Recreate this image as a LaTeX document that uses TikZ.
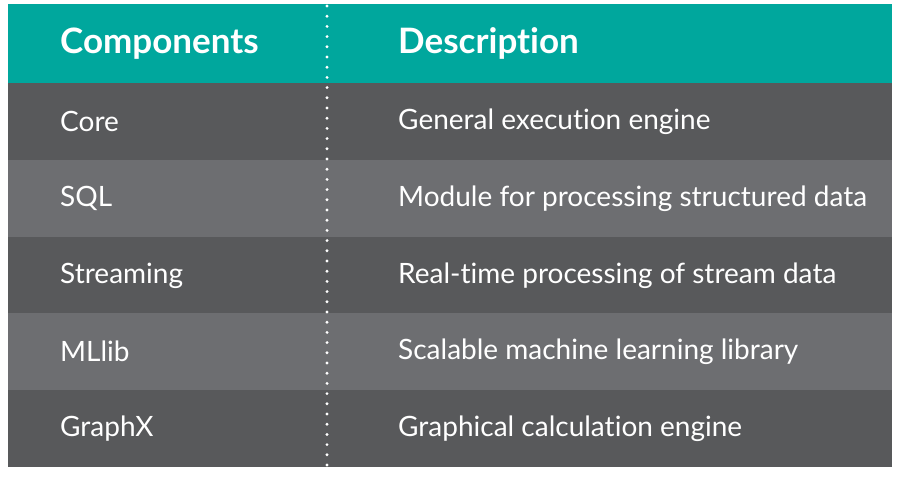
\documentclass[tikz,border=0pt]{standalone}
\usepackage{fontspec}
\setmainfont{Lato}[Ligatures=NoCommon]
\usepackage{xcolor}
\usetikzlibrary{positioning}

\definecolor{headteal}{HTML}{00A79D}
\definecolor{rowdark}{HTML}{58595B}
\definecolor{rowlight}{HTML}{6D6E71}

\begin{document}
\begin{tikzpicture}[
    x=1bp, y=-1bp,
    band/.style={rectangle, anchor=north west, inner sep=0pt, outer sep=0pt, minimum width=884bp, minimum height=77bp},
    cell/.style={inner sep=0pt, text=white, font=\fontsize{28bp}{33bp}\selectfont},
    headcell/.style={inner sep=0pt, text=white, font=\fontsize{35bp}{42bp}\selectfont\bfseries},
    sepline/.style={draw=white, line width=3.2bp, line cap=round, dash pattern=on 0pt off 10.2bp},
]
\useasboundingbox[fill=white] (0,0) rectangle (900,477);

% Header and row bands
\node[band, fill=headteal, minimum height=79bp] (headrow) at (8,4) {};
\node[band, fill=rowdark] (corerow) at (8,83) {};
\node[band, fill=rowlight] (sqlrow) at (8,160) {};
\node[band, fill=rowdark] (streamrow) at (8,237) {};
\node[band, fill=rowlight] (mlrow) at (8,313) {};
\node[band, fill=rowdark, minimum height=77bp] (graphrow) at (8,390) {};

% Header texts
\node[headcell, anchor=west, right=52bp of headrow.west] (comphead) {Components};
\node[headcell, anchor=west, right=390bp of headrow.west] (deschead) {Description};

% Component names
\node[cell, right=52bp of corerow.west] (core) {Core};
\node[cell, right=52bp of sqlrow.west] (sql) {SQL};
\node[cell, right=52bp of streamrow.west] (streaming) {Streaming};
\node[cell, right=52bp of mlrow.west] (mllib) {MLlib};
\node[cell, right=52bp of graphrow.west] (graphx) {GraphX};

% Descriptions
\node[cell, right=390bp of corerow.west] (coredesc) {General execution engine};
\node[cell, right=390bp of sqlrow.west] (sqldesc) {Module for processing structured data};
\node[cell, right=390bp of streamrow.west] (streamdesc) {Real-time processing of stream data};
\node[cell, right=390bp of mlrow.west] (mldesc) {Scalable machine learning library};
\node[cell, right=390bp of graphrow.west] (graphdesc) {Graphical calculation engine};

% Dotted column separator
\coordinate (septop) at (327,6);
\coordinate (sepbottom) at (327,467);
\draw[sepline] (septop) -- (sepbottom);

\end{tikzpicture}
\end{document}
